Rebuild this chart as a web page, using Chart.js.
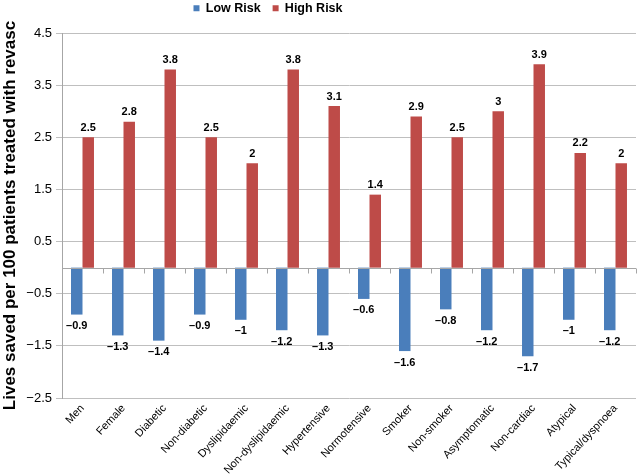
<!DOCTYPE html>
<html>
<head>
<meta charset="utf-8">
<script src="https://cdn.jsdelivr.net/npm/chart.js@4"></script>
<style>
  html, body { margin: 0; padding: 0; background: #fff; }
  #wrap { width: 640px; height: 474px; }
</style>
</head>
<body>
<div id="wrap"><canvas id="chart" width="640" height="474"></canvas></div>
<script>
// categories and values
var categories = ['Men', 'Female', 'Diabetic', 'Non-diabetic', 'Dyslipidaemic', 'Non-dyslipidaemic',
  'Hypertensive', 'Normotensive', 'Smoker', 'Non-smoker', 'Asymptomatic', 'Non-cardiac',
  'Atypical', 'Typical/dyspnoea'];
var lowRisk = [-0.9, -1.3, -1.4, -0.9, -1, -1.2, -1.3, -0.6, -1.6, -0.8, -1.2, -1.7, -1, -1.2];
var highRisk = [2.5, 2.8, 3.8, 2.5, 2, 3.8, 3.1, 1.4, 2.9, 2.5, 3, 3.9, 2.2, 2];
var yMin = -2.5, yMax = 4.5, yStep = 1;

var FONT = '"Liberation Sans", Arial, sans-serif';

function fmt(v) {
  var s = String(Math.abs(v));
  return v < 0 ? '\u2013' + s : s;
}

// value labels above / below each bar
var valueLabels = {
  id: 'valueLabels',
  afterDatasetsDraw: function(chart) {
    var ctx = chart.ctx;
    ctx.save();
    ctx.font = 'bold 11px ' + FONT;
    ctx.fillStyle = '#000';
    ctx.textAlign = 'center';
    chart.data.datasets.forEach(function(ds, i) {
      chart.getDatasetMeta(i).data.forEach(function(bar, j) {
        var v = ds.data[j];
        if (v < 0) {
          ctx.textBaseline = 'top';
          ctx.fillText(fmt(v), bar.x, bar.y + 6);
        } else {
          ctx.textBaseline = 'bottom';
          ctx.fillText(fmt(v), bar.x, bar.y - 4);
        }
      });
    });
    ctx.restore();
  }
};

// zero line with small category tick marks
var zeroTicks = {
  id: 'zeroTicks',
  afterDatasetsDraw: function(chart) {
    var ctx = chart.ctx, x = chart.scales.x, y = chart.scales.y;
    var y0 = Math.round(y.getPixelForValue(0)) + 0.5;
    ctx.save();
    ctx.strokeStyle = '#a6a6a6';
    ctx.lineWidth = 1;
    ctx.beginPath();
    ctx.moveTo(x.left, y0);
    ctx.lineTo(x.right, y0);
    var w = (x.right - x.left) / categories.length;
    for (var i = 0; i <= categories.length; i++) {
      var px = Math.round(x.left + i * w) + 0.5;
      ctx.moveTo(px, y0);
      ctx.lineTo(px, y0 + 5);
    }
    ctx.stroke();
    ctx.restore();
  }
};

// legend: fixed height, and centred a bit left of the canvas middle
var legendTweak = {
  id: 'legendTweak',
  beforeInit: function(chart) {
    var lg = chart.legend;
    var fit = lg.fit, draw = lg.draw;
    lg.fit = function() {
      fit.call(this);
      this.height = 43;
    };
    lg.draw = function() {
      var r = this.right;
      this.right = r - 100;
      draw.call(this);
      this.right = r;
    };
  }
};

new Chart(document.getElementById('chart').getContext('2d'), {
  type: 'bar',
  data: {
    labels: categories,
    datasets: [{
      label: 'Low Risk',
      data: lowRisk,
      backgroundColor: '#4a7ebb',
      barPercentage: 1,
      categoryPercentage: 0.56
    }, {
      label: 'High Risk',
      data: highRisk,
      backgroundColor: '#be4b48',
      barPercentage: 1,
      categoryPercentage: 0.56
    }]
  },
  options: {
    responsive: false,
    animation: false,
    layout: { padding: { top: -10, right: 4, left: 0, bottom: 0 } },
    plugins: {
      legend: {
        position: 'top',
        labels: {
          boxWidth: 6,
          boxHeight: 6,
          color: '#000',
          padding: 12,
          font: { family: FONT, size: 12.5, weight: 'bold' }
        }
      },
      tooltip: { enabled: false }
    },
    scales: {
      x: {
        grid: { display: false, drawTicks: false },
        border: { display: false },
        afterFit: function(s) { s.height = 76; },
        ticks: {
          color: '#000',
          minRotation: 47,
          maxRotation: 47,
          autoSkip: false,
          padding: 4,
          font: { family: FONT, size: 11 }
        }
      },
      y: {
        min: yMin,
        max: yMax,
        afterFit: function(s) { s.width = 62; },
        grid: { color: '#bfbfbf', drawTicks: true, tickLength: 6 },
        border: { color: '#a6a6a6' },
        ticks: {
          stepSize: yStep,
          color: '#000',
          padding: 4,
          callback: function(v) { return v < 0 ? '\u2212' + Math.abs(v) : String(v); },
          font: { family: FONT, size: 13 }
        },
        title: {
          display: true,
          text: 'Lives saved per 100 patients treated with revasc',
          color: '#000',
          padding: { top: 0, bottom: 0 },
          font: { family: FONT, size: 17, weight: 'bold' }
        }
      }
    }
  },
  plugins: [legendTweak, valueLabels, zeroTicks]
});
</script>
</body>
</html>
